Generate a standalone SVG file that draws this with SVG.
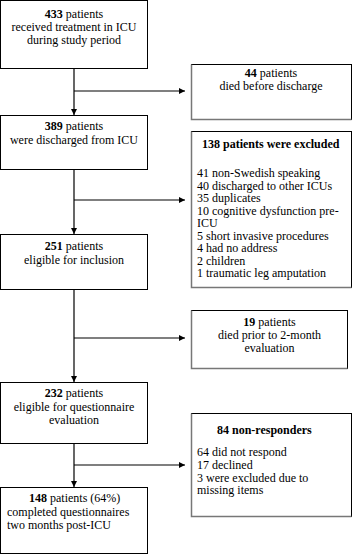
<svg xmlns="http://www.w3.org/2000/svg" width="354" height="555" viewBox="0 0 354 555">
<defs>
<marker id="ah" viewBox="0 0 10 10" refX="10" refY="5" markerWidth="6" markerHeight="6" markerUnits="userSpaceOnUse" orient="auto">
<path d="M0,0 L10,5 L0,10 z" fill="#000"/>
</marker>
</defs>
<style>
.box{fill:#fff;stroke:#000;stroke-width:1}
.sh{fill:none;stroke:#777;stroke-width:1.5}
.ln{fill:none;stroke:#000;stroke-width:1.2}
</style>
<rect width="354" height="555" fill="#fff"/>
<g id="connectors">
<line class="ln" x1="74" y1="68" x2="74" y2="115" marker-end="url(#ah)"/>
<line class="ln" x1="74" y1="91" x2="185" y2="91" marker-end="url(#ah)"/>
<line class="ln" x1="74" y1="169" x2="74" y2="234" marker-end="url(#ah)"/>
<line class="ln" x1="74" y1="200" x2="185" y2="200" marker-end="url(#ah)"/>
<line class="ln" x1="74" y1="289" x2="74" y2="382" marker-end="url(#ah)"/>
<line class="ln" x1="74" y1="338" x2="185" y2="338" marker-end="url(#ah)"/>
<line class="ln" x1="74" y1="443" x2="74" y2="487" marker-end="url(#ah)"/>
<line class="ln" x1="74" y1="465" x2="185" y2="465" marker-end="url(#ah)"/>
</g>
<g id="n433">
<rect class="box" x="0.5" y="0.5" width="147" height="68"/>
<text font-family="Liberation Serif, serif" font-size="12" text-anchor="middle" x="74" y="18"><tspan font-weight="bold">433</tspan> patients</text>
<text font-family="Liberation Serif, serif" font-size="12" text-anchor="middle" x="74" y="31">received treatment in ICU</text>
<text font-family="Liberation Serif, serif" font-size="12" text-anchor="middle" x="74" y="44">during study period</text>
</g>
<g id="n44">
<rect class="box" x="191.5" y="64.5" width="160" height="55"/>
<path class="sh" d="M191.5,64.5 V119.5 H351.5"/>
<text font-family="Liberation Serif, serif" font-size="12" text-anchor="middle" x="271" y="77"><tspan font-weight="bold">44</tspan> patients</text>
<text font-family="Liberation Serif, serif" font-size="12" text-anchor="middle" x="271" y="89.5">died before discharge</text>
</g>
<g id="n389">
<rect class="box" x="0.5" y="115.5" width="147" height="54"/>
<text font-family="Liberation Serif, serif" font-size="12" text-anchor="middle" x="74" y="130"><tspan font-weight="bold">389</tspan> patients</text>
<text font-family="Liberation Serif, serif" font-size="12" text-anchor="middle" x="74" y="144">were discharged from ICU</text>
</g>
<g id="n138">
<rect class="box" x="191.5" y="131.5" width="160" height="156"/>
<path class="sh" d="M191.5,131.5 V287.5 H351.5"/>
<text font-family="Liberation Serif, serif" font-size="12" font-weight="bold" x="202" y="148">138 patients were excluded</text>
<text font-family="Liberation Serif, serif" font-size="12" x="197" y="177">41 non-Swedish speaking</text>
<text font-family="Liberation Serif, serif" font-size="12" x="197" y="189.5">40 discharged to other ICUs</text>
<text font-family="Liberation Serif, serif" font-size="12" x="197" y="202">35 duplicates</text>
<text font-family="Liberation Serif, serif" font-size="12" x="197" y="214.5">10 cognitive dysfunction pre-</text>
<text font-family="Liberation Serif, serif" font-size="12" x="197" y="227">ICU</text>
<text font-family="Liberation Serif, serif" font-size="12" x="197" y="239.5">5 short invasive procedures</text>
<text font-family="Liberation Serif, serif" font-size="12" x="197" y="252">4 had no address</text>
<text font-family="Liberation Serif, serif" font-size="12" x="197" y="264.5">2 children</text>
<text font-family="Liberation Serif, serif" font-size="12" x="197" y="277">1 traumatic leg amputation</text>
</g>
<g id="n251">
<rect class="box" x="0.5" y="234.5" width="147" height="55"/>
<text font-family="Liberation Serif, serif" font-size="12" text-anchor="middle" x="74" y="250"><tspan font-weight="bold">251</tspan> patients</text>
<text font-family="Liberation Serif, serif" font-size="12" text-anchor="middle" x="74" y="264">eligible for inclusion</text>
</g>
<g id="n19">
<rect class="box" x="191.5" y="310.5" width="156" height="58"/>
<path class="sh" d="M191.5,310.5 V368.5 H347.5"/>
<text font-family="Liberation Serif, serif" font-size="12" text-anchor="middle" x="269.5" y="326"><tspan font-weight="bold">19</tspan> patients</text>
<text font-family="Liberation Serif, serif" font-size="12" text-anchor="middle" x="269.5" y="339">died prior to 2-month</text>
<text font-family="Liberation Serif, serif" font-size="12" text-anchor="middle" x="269.5" y="352">evaluation</text>
</g>
<g id="n232">
<rect class="box" x="0.5" y="382.5" width="147" height="61"/>
<text font-family="Liberation Serif, serif" font-size="12" text-anchor="middle" x="74" y="397"><tspan font-weight="bold">232</tspan> patients</text>
<text font-family="Liberation Serif, serif" font-size="12" text-anchor="middle" x="74" y="411">eligible for questionnaire</text>
<text font-family="Liberation Serif, serif" font-size="12" text-anchor="middle" x="74" y="424">evaluation</text>
</g>
<g id="n84">
<rect class="box" x="191.5" y="413.5" width="160" height="103"/>
<path class="sh" d="M191.5,413.5 V516.5 H351.5"/>
<text font-family="Liberation Serif, serif" font-size="12" font-weight="bold" x="217" y="434">84 non-responders</text>
<text font-family="Liberation Serif, serif" font-size="12" x="197" y="456">64 did not respond</text>
<text font-family="Liberation Serif, serif" font-size="12" x="197" y="469">17 declined</text>
<text font-family="Liberation Serif, serif" font-size="12" x="197" y="481.5">3 were excluded due to</text>
<text font-family="Liberation Serif, serif" font-size="12" x="197" y="494">missing items</text>
</g>
<g id="n148">
<rect class="box" x="0.5" y="487.5" width="147" height="66"/>
<text font-family="Liberation Serif, serif" font-size="12" x="29" y="502"><tspan font-weight="bold">148</tspan> patients (64%)</text>
<text font-family="Liberation Serif, serif" font-size="12" x="7" y="516">completed questionnaires</text>
<text font-family="Liberation Serif, serif" font-size="12" x="7" y="529">two months post-ICU</text>
</g>
</svg>
